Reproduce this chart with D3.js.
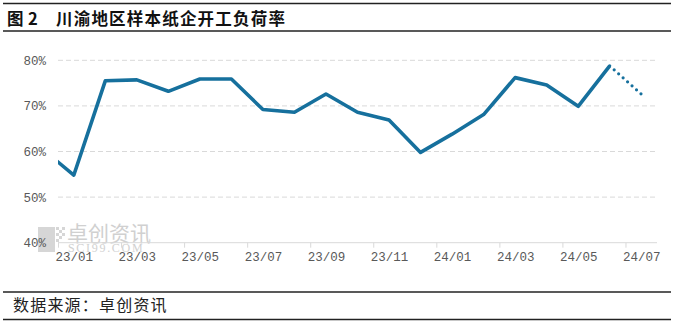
<!DOCTYPE html>
<html>
<head>
<meta charset="utf-8">
<script src="https://cdn.jsdelivr.net/npm/d3@7"></script>
<style>
  body { margin: 0; background: #fff; }
  svg { display: block; }
</style>
</head>
<body>
<div id="chart"></div>
<script>
// months, Dec 2022 is only partly visible at the left edge
const months = ["22/12","23/01","23/02","23/03","23/04","23/05","23/06","23/07","23/08","23/09","23/10","23/11","23/12",
                "24/01","24/02","24/03","24/04","24/05","24/06","24/07"];
// operating rate (%)
const values = [60.6, 54.8, 75.5, 75.7, 73.2, 75.9, 75.9, 69.2, 68.6, 72.6, 68.6, 66.9, 59.8,
                63.8, 68.1, 76.2, 74.6, 69.9, 78.8, 72.6];
// last month is an estimate, drawn dotted
const estimateFrom = "24/06";
const tickLabels = ["23/01","23/03","23/05","23/07","23/09","23/11","24/01","24/03","24/05","24/07"];
const yTicks = [40, 50, 60, 70, 80];

const W = 674, H = 321;
const svg = d3.select("#chart").append("svg").attr("width", W).attr("height", H);

// index 0 = 23/01
function idx(m){ return months.indexOf(m) - 1; }

const x = d3.scaleLinear().domain([-0.5, 18.5]).range([58, 657]);
const y = d3.scaleLinear().domain([40, 80]).range([242.7, 60.3]);

// header / footer rules
[3.5, 31, 292, 319.5].forEach(function(yy){
    svg.append("line").attr("x1", 3).attr("x2", 671).attr("y1", yy).attr("y2", yy)
       .attr("stroke", "#222").attr("stroke-width", 1.4);
});

const title = svg.append("text").attr("y", 25)
   .style("font-family", "'Noto Sans CJK SC'").style("font-size", "16.5px").style("font-weight", 700)
   .style("letter-spacing", "1.2px").attr("fill", "#111");
title.append("tspan").attr("x", 7).text("图");
title.append("tspan").attr("x", 28).text("2");
title.append("tspan").attr("x", 56).text("川渝地区样本纸企开工负荷率");

svg.append("text").attr("x", 13).attr("y", 311)
   .style("font-family", "'Noto Sans CJK SC'").style("font-size", "16px").style("font-weight", 400)
   .style("letter-spacing", "1.2px").attr("fill", "#222")
   .text("数据来源：卓创资讯");

// watermark
const wm = svg.append("g").attr("opacity", 0.9);
wm.append("rect").attr("x", 38).attr("y", 227).attr("width", 17).attr("height", 25).attr("fill", "#d2d2d2");
[[56,227],[62,227],[59,230],[56,233],[62,233],[59,236],[56,239]].forEach(function(p){
    wm.append("rect").attr("x", p[0]).attr("y", p[1]).attr("width", 3).attr("height", 3).attr("fill", "#d2d2d2");
});
wm.append("text").attr("x", 67).attr("y", 241)
  .style("font-family", "'Noto Sans CJK SC'").style("font-size", "21px").attr("fill", "#cccccc")
  .text("卓创资讯");
wm.append("text").attr("x", 68).attr("y", 252)
  .style("font-family", "'Liberation Serif'").style("font-size", "12px").style("letter-spacing", "1.7px")
  .attr("fill", "#cccccc").text("SCI99.COM");

// gridlines
svg.append("g").selectAll("line")
   .data(yTicks.filter(function(d){ return d > 40; }))
   .join("line")
   .attr("x1", x(-0.5)).attr("x2", x(18.5))
   .attr("y1", function(d){ return y(d); }).attr("y2", function(d){ return y(d); })
   .attr("stroke", "#d9d9d9").attr("stroke-width", 1).attr("stroke-dasharray", "5,3");

// y labels
svg.append("g").selectAll("text")
   .data(yTicks).join("text")
   .attr("x", 46).attr("y", function(d){ return y(d) + 4.5; })
   .attr("text-anchor", "end")
   .style("font-family", "'Liberation Mono'").style("font-size", "12.5px").attr("fill", "#595959")
   .text(function(d){ return d + "%"; });

// x axis: tick marks between categories, labels on categories
const tickPos = d3.range(-0.5, 18, 2);
const xTicks = d3.axisBottom(x).tickValues(tickPos).tickSize(5).tickFormat("");
const gx = svg.append("g").attr("transform", "translate(0," + y(40) + ")").call(xTicks);
gx.select(".domain").attr("stroke", "#d9d9d9").attr("d", "M" + x(-0.5) + ",0H" + x(18.5));
gx.selectAll(".tick line").attr("stroke", "#d9d9d9");

const xLabels = d3.axisBottom(x).tickValues(tickLabels.map(idx)).tickSize(0)
    .tickFormat(function(d){ return months[d + 1]; });
const gl = svg.append("g").attr("transform", "translate(0," + y(40) + ")").call(xLabels);
gl.select(".domain").remove();
gl.selectAll("text").attr("dy", "1.25em")
  .style("font-family", "'Liberation Mono'").style("font-size", "12.5px").attr("fill", "#595959");

// clip
svg.append("clipPath").attr("id", "plot").append("rect")
   .attr("x", x(-0.5)).attr("y", 0).attr("width", x(18.5) - x(-0.5)).attr("height", H);

const pts = months.map(function(m, i){ return { i: idx(m), v: values[i] }; });
const cut = idx(estimateFrom) + 1;
const line = d3.line().x(function(d){ return x(d.i); }).y(function(d){ return y(d.v); });
const color = "#16709d";

svg.append("path").datum(pts.slice(0, cut + 1))
   .attr("clip-path", "url(#plot)")
   .attr("d", line).attr("fill", "none").attr("stroke", color)
   .attr("stroke-width", 3.6).attr("stroke-linejoin", "round");

svg.append("path").datum(pts.slice(cut))
   .attr("d", line).attr("fill", "none").attr("stroke", color)
   .attr("stroke-width", 3.2).attr("stroke-linecap", "round")
   .attr("stroke-dasharray", "0,6").attr("stroke-dashoffset", -6);
</script>
</body>
</html>
